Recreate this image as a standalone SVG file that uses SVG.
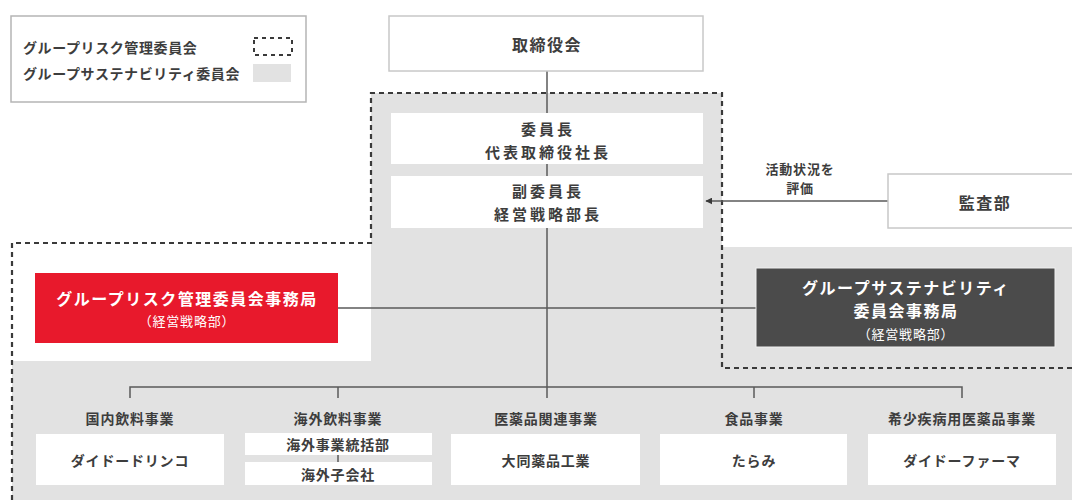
<svg xmlns="http://www.w3.org/2000/svg" width="1072" height="500" viewBox="0 0 1072 500">
<defs>
<style>
text{font-family:"Noto Sans CJK JP","Noto Sans",sans-serif;fill:#3d3d3d;text-anchor:middle;dominant-baseline:central;font-weight:700}
.box{fill:#fff;stroke:none}
.bx{fill:#fff;stroke:#c8c8c8;stroke-width:1.5}
.ln{stroke:#5a5a5a;stroke-width:1.5;fill:none}
.dash{stroke:#3a3a3a;stroke-width:2.2;stroke-dasharray:5 4;fill:none}
.t16{font-size:16px;letter-spacing:1.5px}
.t15{font-size:15px;letter-spacing:3px}
.t14{font-size:14px;letter-spacing:0.8px}
.t13{font-size:13px;letter-spacing:0.8px}
.w{fill:#fff}
.lg{text-anchor:start;font-size:14px;letter-spacing:0.6px}
</style>
<marker id="arr" viewBox="0 0 10 10" refX="9" refY="5" markerWidth="7" markerHeight="7" orient="auto-start-reverse" markerUnits="userSpaceOnUse">
<path d="M0,0 L10,5 L0,10 z" fill="#3a3a3a"/>
</marker>
</defs>
<rect width="1072" height="500" fill="#fff"/>
<g id="sustainability-area">
<polygon points="371,93 722,93 722,247 1072,247 1072,500 12,500 12,361 371,361" fill="#e2e2e2"/>
</g>
<g id="risk-area">
<polyline class="dash" points="1072,368 722,368 722,93 371,93 371,243 12,243 12,500"/>
</g>
<g id="legend">
<rect x="11" y="16" width="295" height="86" fill="#fff" stroke="#b5b5b5" stroke-width="1.5"/>
<text class="lg" x="23" y="47">グループリスク管理委員会</text>
<text class="lg" x="23" y="73">グループサステナビリティ委員会</text>
<rect x="254" y="38" width="38" height="17" fill="none" stroke="#3a3a3a" stroke-width="2" stroke-dasharray="4 4"/>
<rect x="253" y="64" width="38" height="18" fill="#e2e2e2"/>
</g>
<g id="connectors">
<line class="ln" x1="547" y1="71" x2="547" y2="113"/>
<line class="ln" x1="547" y1="164" x2="547" y2="176"/>
<line class="ln" x1="547" y1="228" x2="547" y2="398"/>
<line class="ln" x1="338" y1="308" x2="757" y2="308"/>
<polyline class="ln" points="130,398 130,387 962,387 962,398"/>
<line class="ln" x1="338" y1="387" x2="338" y2="398"/>
<line class="ln" x1="754" y1="387" x2="754" y2="398"/>
<line class="ln" x1="338" y1="455" x2="338" y2="462"/>
<line class="ln" x1="888" y1="201" x2="706" y2="201" marker-end="url(#arr)"/>
<text class="t13" x="800" y="168">活動状況を</text>
<text class="t13" x="800" y="187">評価</text>
</g>
<g id="board">
<rect class="bx" x="389" y="16" width="314" height="55"/>
<text class="t16" x="547" y="44">取締役会</text>
</g>
<g id="chair">
<rect class="box" x="391" y="113" width="312" height="51"/>
<text class="t15" x="548" y="128">委員長</text>
<text class="t15" x="548" y="151">代表取締役社長</text>
</g>
<g id="vice-chair">
<rect class="box" x="391" y="176" width="312" height="52"/>
<text class="t15" x="548" y="190">副委員長</text>
<text class="t15" x="548" y="213">経営戦略部長</text>
</g>
<g id="audit">
<rect class="bx" x="888" y="174" width="190" height="54"/>
<text class="t16" x="985" y="202">監査部</text>
</g>
<g id="risk-secretariat">
<rect x="35" y="273" width="303" height="70" fill="#e8192c"/>
<text class="t16 w" x="187" y="298">グループリスク管理委員会事務局</text>
<text class="t13 w" x="187" y="320" style="font-weight:400">（経営戦略部）</text>
</g>
<g id="sustainability-secretariat">
<rect x="756" y="268" width="299" height="79" fill="#4b4b4b" stroke="#f0f0f0" stroke-width="1"/>
<text class="t16 w" x="906" y="287">グループサステナビリティ</text>
<text class="t16 w" x="906" y="310">委員会事務局</text>
<text class="t13 w" x="906" y="333" style="font-weight:400">（経営戦略部）</text>
</g>
<g id="domestic">
<text class="t14" x="130" y="418">国内飲料事業</text>
<rect class="box" x="36" y="434" width="188" height="51"/>
<text class="t14" x="130" y="460">ダイドードリンコ</text>
</g>
<g id="overseas">
<text class="t14" x="338" y="418">海外飲料事業</text>
<rect class="box" x="245" y="433" width="187" height="22"/>
<text class="t14" x="338" y="444">海外事業統括部</text>
<rect class="box" x="245" y="462" width="187" height="23"/>
<text class="t14" x="338" y="474">海外子会社</text>
</g>
<g id="pharma">
<text class="t14" x="546" y="418">医薬品関連事業</text>
<rect class="box" x="451" y="434" width="189" height="51"/>
<text class="t14" x="546" y="460">大同薬品工業</text>
</g>
<g id="food">
<text class="t14" x="754" y="418">食品事業</text>
<rect class="box" x="660" y="434" width="187" height="51"/>
<text class="t14" x="754" y="460">たらみ</text>
</g>
<g id="orphan">
<text class="t14" x="962" y="418">希少疾病用医薬品事業</text>
<rect class="box" x="868" y="434" width="188" height="51"/>
<text class="t14" x="962" y="460">ダイドーファーマ</text>
</g>
</svg>
